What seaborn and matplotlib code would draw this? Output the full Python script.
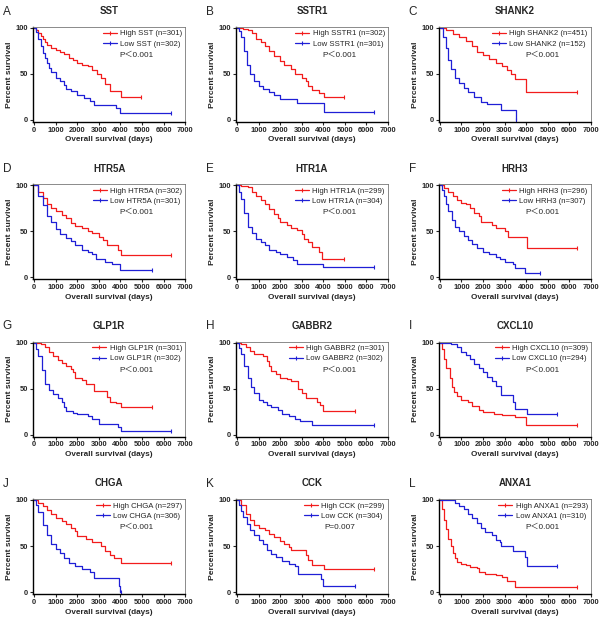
import seaborn as sns
from matplotlib import pyplot as plt
from matplotlib.lines import Line2D

# ---- data (days, percent survival) ----
a_hi_t = [0, 100, 200, 300, 400, 500, 600, 800, 1000, 1200, 1400, 1600, 1800, 2000, 2200, 2500, 2700, 2900, 3100, 3300, 3500, 4050, 4950]
a_hi_s = [100, 97, 94, 91, 88, 84, 81, 78, 76, 74, 71, 67, 65, 62, 60, 58, 54, 50, 46, 39, 31, 25, 25]
a_lo_t = [0, 100, 200, 300, 400, 500, 600, 700, 800, 1000, 1200, 1400, 1500, 1700, 2000, 2300, 2600, 2800, 3700, 3800, 4000, 6350]
a_lo_s = [100, 95, 88, 80, 73, 67, 62, 56, 52, 46, 42, 38, 34, 31, 27, 24, 21, 16, 16, 13, 8, 8]

b_hi_t = [0, 300, 500, 700, 900, 1100, 1300, 1500, 1700, 2000, 2200, 2500, 2700, 3000, 3200, 3300, 3500, 3800, 4050, 4950]
b_hi_s = [100, 99, 98, 94, 88, 84, 80, 75, 69, 64, 60, 55, 50, 46, 42, 37, 33, 29, 25, 25]
b_lo_t = [0, 100, 200, 350, 450, 600, 800, 1000, 1200, 1500, 1700, 2000, 2800, 4050, 6350]
b_lo_s = [100, 96, 90, 75, 60, 50, 42, 37, 34, 30, 27, 23, 18, 9, 9]

c_hi_t = [0, 300, 600, 900, 1200, 1500, 1700, 2000, 2300, 2600, 2900, 3100, 3300, 3500, 4000, 6350]
c_hi_s = [100, 97, 93, 90, 86, 80, 74, 70, 66, 62, 58, 54, 50, 44, 30, 30]
c_lo_t = [0, 150, 300, 400, 500, 700, 900, 1100, 1300, 1600, 1900, 2200, 2850, 3520, 3530]
c_lo_s = [100, 90, 78, 65, 55, 45, 40, 35, 30, 25, 20, 17, 11, 0, 0]

d_hi_t = [0, 200, 400, 600, 800, 1000, 1300, 1500, 1700, 1900, 2200, 2500, 2700, 3000, 3200, 3400, 3900, 4050, 6350]
d_hi_s = [100, 93, 86, 80, 75, 72, 68, 64, 59, 56, 53, 50, 48, 44, 40, 35, 30, 24, 24]
d_lo_t = [0, 200, 400, 600, 800, 1000, 1200, 1500, 1700, 1900, 2200, 2500, 2700, 2850, 3300, 3600, 4000, 5450]
d_lo_s = [100, 88, 78, 67, 60, 52, 47, 43, 39, 35, 30, 27, 25, 20, 17, 14, 8, 8]

e_hi_t = [0, 200, 500, 700, 900, 1100, 1300, 1500, 1700, 1900, 2000, 2300, 2500, 2800, 3000, 3100, 3300, 3500, 3800, 3950, 4950]
e_hi_s = [100, 99, 98, 93, 88, 84, 80, 74, 69, 64, 60, 57, 54, 51, 47, 42, 38, 33, 27, 20, 20]
e_lo_t = [0, 100, 200, 350, 500, 700, 900, 1100, 1300, 1500, 1800, 2000, 2300, 2600, 2800, 4000, 6350]
e_lo_s = [100, 93, 85, 70, 55, 48, 42, 38, 35, 30, 28, 25, 22, 19, 15, 11, 11]

f_hi_t = [0, 200, 400, 600, 800, 1000, 1200, 1400, 1600, 1800, 1900, 2400, 2600, 3000, 3150, 4050, 6350]
f_hi_s = [100, 97, 92, 88, 84, 81, 79, 75, 70, 66, 60, 57, 54, 50, 44, 32, 32]
f_lo_t = [0, 100, 200, 300, 400, 550, 700, 900, 1100, 1300, 1500, 1700, 2000, 2300, 2600, 2800, 3000, 3400, 3500, 3950, 4650]
f_lo_s = [100, 95, 88, 80, 72, 62, 55, 50, 45, 40, 36, 32, 28, 25, 22, 20, 17, 14, 10, 5, 5]

g_hi_t = [0, 300, 500, 700, 900, 1100, 1300, 1500, 1700, 1800, 1900, 2200, 2400, 2800, 3400, 3500, 3800, 4050, 5450]
g_hi_s = [100, 98, 95, 90, 85, 81, 78, 75, 71, 68, 62, 59, 55, 47, 41, 36, 34, 30, 30]
g_lo_t = [0, 100, 200, 350, 500, 700, 900, 1100, 1300, 1400, 1500, 1800, 2000, 2500, 2700, 3000, 3900, 4050, 6350]
g_lo_s = [100, 93, 85, 70, 55, 49, 44, 40, 35, 30, 26, 24, 22, 20, 17, 12, 8, 4, 4]

h_hi_t = [0, 200, 400, 600, 800, 1200, 1400, 1500, 1600, 1800, 2000, 2300, 2500, 2850, 3000, 3200, 3700, 3850, 4000, 5450]
h_hi_s = [100, 98, 95, 91, 88, 85, 80, 75, 69, 66, 62, 60, 58, 50, 45, 40, 36, 32, 26, 26]
h_lo_t = [0, 100, 200, 350, 500, 650, 800, 1000, 1200, 1400, 1600, 1900, 2100, 2400, 2700, 2900, 3500, 6350]
h_lo_s = [100, 94, 88, 75, 62, 52, 45, 38, 35, 32, 30, 27, 23, 20, 17, 15, 11, 11]

i_hi_t = [0, 100, 200, 300, 450, 550, 650, 800, 1000, 1300, 1500, 1800, 2000, 2500, 2900, 3500, 4000, 6350]
i_hi_s = [100, 93, 82, 72, 62, 52, 46, 42, 38, 35, 31, 27, 25, 23, 21, 19, 11, 11]
i_lo_t = [0, 300, 500, 800, 1000, 1200, 1400, 1600, 1800, 2000, 2200, 2400, 2600, 2850, 3400, 3500, 4050, 5450]
i_lo_s = [100, 100, 98, 95, 90, 86, 82, 77, 72, 68, 63, 58, 53, 43, 36, 28, 22, 22]

j_hi_t = [0, 200, 400, 600, 800, 1000, 1300, 1500, 1700, 1900, 2000, 2400, 2700, 3100, 3300, 3500, 3700, 4050, 6350]
j_hi_s = [100, 97, 93, 89, 85, 80, 77, 74, 70, 66, 61, 58, 54, 50, 45, 40, 37, 32, 32]
j_lo_t = [0, 100, 200, 400, 600, 800, 1000, 1200, 1400, 1600, 1900, 2200, 2600, 2800, 3950, 3980, 4050]
j_lo_s = [100, 94, 87, 73, 62, 52, 47, 42, 37, 32, 28, 25, 22, 15, 7, 0, 0]

k_hi_t = [0, 200, 400, 600, 800, 1000, 1300, 1500, 1700, 2000, 2200, 2400, 2500, 3200, 3300, 3500, 4050, 6350]
k_hi_s = [100, 94, 85, 78, 73, 70, 67, 63, 60, 56, 52, 49, 46, 40, 35, 30, 25, 25]
k_lo_t = [0, 100, 200, 300, 450, 600, 800, 1000, 1200, 1400, 1600, 1800, 2100, 2400, 2700, 2850, 3900, 4000, 5450]
k_lo_s = [100, 95, 88, 81, 74, 67, 62, 57, 52, 46, 41, 38, 34, 31, 28, 20, 14, 7, 7]

l_hi_t = [0, 100, 200, 300, 400, 500, 600, 700, 800, 1000, 1200, 1400, 1700, 1800, 2100, 2600, 2900, 3100, 3500, 6350]
l_hi_s = [100, 90, 78, 68, 58, 50, 42, 37, 33, 31, 30, 27, 26, 22, 20, 19, 16, 12, 6, 6]
l_lo_t = [0, 500, 700, 900, 1100, 1300, 1500, 1700, 1900, 2100, 2400, 2600, 2800, 2850, 3400, 3950, 4050, 5450]
l_lo_s = [100, 100, 97, 93, 90, 85, 80, 75, 70, 65, 62, 57, 54, 50, 45, 38, 28, 28]

letters = list("ABCDEFGHIJKL")
genes = ["SST", "SSTR1", "SHANK2", "HTR5A", "HTR1A", "HRH3",
         "GLP1R", "GABBR2", "CXCL10", "CHGA", "CCK", "ANXA1"]
n_high = [301, 302, 451, 302, 299, 296, 301, 301, 309, 297, 299, 293]
n_low = [302, 301, 152, 301, 304, 307, 302, 302, 294, 306, 304, 310]
p_text = ["P\uff1c0.001"] * 10 + ["P=0.007", "P\uff1c0.001"]

curves = [
    (a_hi_t, a_hi_s, a_lo_t, a_lo_s), (b_hi_t, b_hi_s, b_lo_t, b_lo_s),
    (c_hi_t, c_hi_s, c_lo_t, c_lo_s), (d_hi_t, d_hi_s, d_lo_t, d_lo_s),
    (e_hi_t, e_hi_s, e_lo_t, e_lo_s), (f_hi_t, f_hi_s, f_lo_t, f_lo_s),
    (g_hi_t, g_hi_s, g_lo_t, g_lo_s), (h_hi_t, h_hi_s, h_lo_t, h_lo_s),
    (i_hi_t, i_hi_s, i_lo_t, i_lo_s), (j_hi_t, j_hi_s, j_lo_t, j_lo_s),
    (k_hi_t, k_hi_s, k_lo_t, k_lo_s), (l_hi_t, l_hi_s, l_lo_t, l_lo_s),
]

RED = "#f21c1c"
BLUE = "#1f1fd6"

sns.set_style("ticks")
plt.rcParams["font.family"] = ["Liberation Sans", "Noto Sans CJK SC", "DejaVu Sans"]

fig, axes = plt.subplots(4, 3, figsize=(6.03, 6.23), dpi=100)
fig.subplots_adjust(left=0.055, right=0.98, top=0.957, bottom=0.0465,
                    wspace=0.335, hspace=0.656)

for ax, letter, gene, nh, nl, pt, (ht, hs, lt, ls) in zip(
        axes.flat, letters, genes, n_high, n_low, p_text, curves):
    sns.lineplot(x=ht, y=hs, ax=ax, color=RED, lw=0.9, drawstyle="steps-post",
                 estimator=None, sort=False)
    sns.lineplot(x=lt, y=ls, ax=ax, color=BLUE, lw=0.9, drawstyle="steps-post",
                 estimator=None, sort=False)
    ax.plot(ht[-1], hs[-1], marker="|", color=RED, ms=3, mew=0.8)
    ax.plot(lt[-1], ls[-1], marker="|", color=BLUE, ms=3, mew=0.8)

    ax.set_xlim(-40, 7000)
    ax.set_ylim(-2, 101)
    ax.set_xticks(range(0, 7001, 1000))
    ax.set_yticks([0, 50, 100])
    ax.tick_params(length=2, width=0.8, pad=1.5, labelsize=5.4)
    for lab in ax.get_xticklabels() + ax.get_yticklabels():
        lab.set_fontweight("bold")
    for side in ["left", "bottom"]:
        ax.spines[side].set_linewidth(1.0)
        ax.spines[side].set_color("black")
    for side in ["top", "right"]:
        ax.spines[side].set_linewidth(0.6)
        ax.spines[side].set_color("#777777")

    ax.set_xlabel("Overall survival (days)", fontsize=5.9, fontweight="bold", labelpad=2)
    ax.set_ylabel("Percent survival", fontsize=6.1, fontweight="bold", labelpad=2)
    ax.set_title(gene, fontsize=7, fontweight="bold", pad=9)
    ax.text(-0.2, 1.16, letter, transform=ax.transAxes, fontsize=8.5,
            ha="left", va="center")

    handles = [
        Line2D([], [], color=RED, lw=0.9, marker="|", ms=3, mew=0.8),
        Line2D([], [], color=BLUE, lw=0.9, marker="|", ms=3, mew=0.8),
    ]
    ax.legend(handles, [f"High {gene} (n={nh})", f"Low {gene} (n={nl})"],
              loc="upper right", bbox_to_anchor=(1.0, 1.0), frameon=False,
              fontsize=5.6, handlelength=1.8, handletextpad=0.4,
              labelspacing=0.35, borderaxespad=0.2, borderpad=0.2)
    ax.text(0.68, 0.70, pt, transform=ax.transAxes, fontsize=5.9,
            ha="center", va="center")

fig.savefig("out.png", dpi=100)
